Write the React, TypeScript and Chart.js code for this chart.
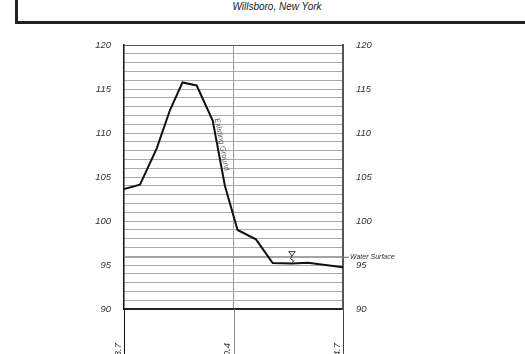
import { useEffect, useRef } from "react";
import { Chart, registerables } from "chart.js";

Chart.register(...registerables);

// Station tick labels (only their ends are visible in the reference)
const stationLabels = ["1203.7", "1220.4", "1234.7"];
const stationPositions = [0, 1, 2];

// Existing ground profile
const groundX = [0, 0.146, 0.299, 0.42, 0.534, 0.664, 0.81, 0.922, 1.037, 1.205, 1.358, 1.534, 1.68, 2.0];
const groundY = [103.64, 104.13, 108.26, 112.61, 115.74, 115.4, 111.42, 103.98, 98.98, 97.92, 95.23, 95.17, 95.26, 94.74];

// Water surface
const waterSurface = 95.88;
const waterMarkerX = 1.534;

// Elevation axis
const elevMin = 90;
const elevMax = 120;
const elevMajorStep = 5;
const elevMinorStep = 1;

const FONT = "'Liberation Sans', Arial, Helvetica, sans-serif";

const overlayPlugin = {
  id: "overlay",
  afterDraw(chart: any) {
    const { ctx, chartArea, scales } = chart;
    const x = scales.x;
    const y = scales.y;
    ctx.save();

    // station tick lines below the plot
    const tickColors = ["#111", "#888", "#444"];
    stationPositions.forEach((v, i) => {
      const px = Math.round(x.getPixelForValue(v)) + 0.5;
      ctx.strokeStyle = tickColors[i];
      ctx.lineWidth = 1;
      ctx.beginPath();
      ctx.moveTo(px, chartArea.bottom);
      ctx.lineTo(px, chart.height);
      ctx.stroke();
    });

    // water surface label outside right
    const wy = y.getPixelForValue(waterSurface);
    ctx.strokeStyle = "#666";
    ctx.lineWidth = 1;
    ctx.beginPath();
    ctx.moveTo(chartArea.right, wy);
    ctx.lineTo(chartArea.right + 6, wy);
    ctx.stroke();
    ctx.font = `italic 7px ${FONT}`;
    ctx.fillStyle = "#333";
    ctx.textBaseline = "middle";
    ctx.textAlign = "left";
    ctx.fillText("Water Surface", chartArea.right + 7, wy);

    // water surface marker
    const mx = x.getPixelForValue(waterMarkerX);
    ctx.strokeStyle = "#333";
    ctx.lineWidth = 1;
    ctx.beginPath();
    ctx.moveTo(mx - 3.2, wy - 5.6);
    ctx.lineTo(mx + 3.2, wy - 5.6);
    ctx.lineTo(mx, wy - 1.3);
    ctx.closePath();
    ctx.stroke();
    ctx.beginPath();
    ctx.moveTo(mx, wy - 1.3);
    ctx.lineTo(mx - 1.5, wy + 1.5);
    ctx.lineTo(mx + 1.5, wy + 3.5);
    ctx.lineTo(mx, wy + 6);
    ctx.stroke();

    // Existing Ground label along the steep segment
    const i0 = 6;
    const x0 = x.getPixelForValue(groundX[i0]);
    const y0 = y.getPixelForValue(groundY[i0]);
    const x1 = x.getPixelForValue(groundX[i0 + 1]);
    const y1 = y.getPixelForValue(groundY[i0 + 1]);
    const ang = Math.atan2(y1 - y0, x1 - x0);
    const t = 0.38;
    ctx.translate(x0 + (x1 - x0) * t, y0 + (y1 - y0) * t);
    ctx.rotate(ang);
    ctx.font = `7.5px ${FONT}`;
    ctx.fillStyle = "#555";
    ctx.textAlign = "center";
    ctx.textBaseline = "middle";
    ctx.fillText("Existing Ground", 0, -4.5);
    ctx.restore();
  },
};

export default function App() {
  const ref = useRef<HTMLCanvasElement | null>(null);

  useEffect(() => {
    if (!ref.current) return;
    const tickFont = { family: FONT, size: 9.5, style: "italic" as const };
    const chart = new Chart(ref.current, {
      type: "line",
      data: {
        datasets: [
          {
            label: "Existing Ground",
            data: groundX.map((v, i) => ({ x: v, y: groundY[i] })),
            borderColor: "#111",
            borderWidth: 2,
            pointRadius: 0,
            tension: 0,
            order: 0,
          },
          {
            label: "Water Surface",
            data: [
              { x: stationPositions[0], y: waterSurface },
              { x: stationPositions[stationPositions.length - 1], y: waterSurface },
            ],
            borderColor: "#888",
            borderWidth: 1,
            pointRadius: 0,
            order: 1,
          },
        ],
      },
      options: {
        animation: false,
        responsive: false,
        layout: { padding: { top: 45, left: 0, right: 0, bottom: 0 } },
        plugins: { legend: { display: false }, tooltip: { enabled: false } },
        scales: {
          x: {
            type: "linear",
            min: stationPositions[0],
            max: stationPositions[stationPositions.length - 1],
            afterBuildTicks: (s: any) => {
              s.ticks = stationPositions.map((v) => ({ value: v }));
            },
            grid: {
              color: (c: any) => (c.index === 1 ? "#999" : "rgba(0,0,0,0)"),
              drawTicks: false,
            },
            border: { display: true, color: "#222", width: 1.5 },
            ticks: {
              autoSkip: false,
              maxRotation: 90,
              minRotation: 90,
              padding: 34,
              labelOffset: -6,
              font: tickFont,
              color: "#333",
              callback: (v: any) => stationLabels[stationPositions.indexOf(Number(v))] ?? "",
            },
            afterFit: (s: any) => {
              s.height = 45;
            },
          },
          y: {
            position: "left",
            min: elevMin,
            max: elevMax,
            ticks: {
              stepSize: elevMinorStep,
              autoSkip: false,
              padding: 13,
              font: tickFont,
              color: "#333",
              callback: (v: any) => (Number(v) % elevMajorStep === 0 ? String(v) : ""),
            },
            grid: {
              color: (c: any) =>
                c.tick.value === elevMax ? "#555" : c.tick.value === elevMin ? "#222" : "#aaa",
              drawTicks: false,
            },
            border: { color: "#111", width: 1.5 },
            afterFit: (s: any) => {
              s.width = 124;
            },
          },
          y2: {
            position: "right",
            min: elevMin,
            max: elevMax,
            ticks: {
              stepSize: elevMajorStep,
              autoSkip: false,
              padding: 13,
              font: tickFont,
              color: "#333",
            },
            grid: { drawOnChartArea: false, drawTicks: false },
            border: { color: "#555", width: 2 },
            afterFit: (s: any) => {
              s.width = 182;
            },
          },
        },
      },
      plugins: [overlayPlugin],
    });
    return () => chart.destroy();
  }, []);

  return (
    <div style={{ position: "absolute", left: 0, top: 0, width: 525, height: 354, overflow: "hidden", background: "#fff" }}>
      <div
        style={{
          position: "absolute",
          left: 15,
          top: -50,
          width: 518,
          height: 68,
          border: "3px solid #222",
        }}
      />
      <div
        style={{
          position: "absolute",
          left: 15,
          top: 1,
          width: 524,
          textAlign: "center",
          font: `italic 10px/12px ${FONT}`,
          color: "#222",
        }}
      >
        Willsboro, New York
      </div>
      <canvas ref={ref} width={525} height={354} style={{ position: "absolute", left: 0, top: 0 }} />
    </div>
  );
}
